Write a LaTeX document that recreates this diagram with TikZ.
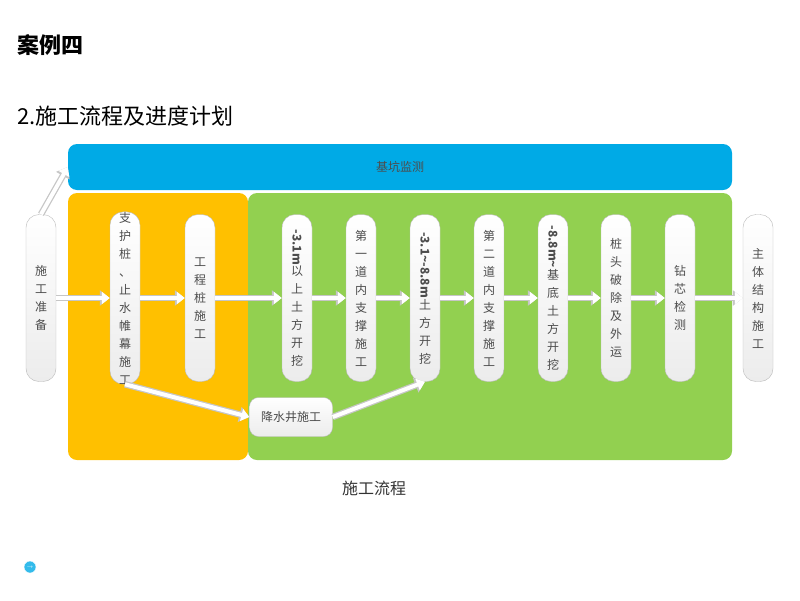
\documentclass[tikz,border=0pt]{standalone}
\usepackage{fontspec}
\setmainfont{Noto Sans CJK SC}
\usepackage{tikz}
\usetikzlibrary{positioning, arrows.meta}
\definecolor{monitorblue}{RGB}{0,170,230}
\definecolor{pileorange}{RGB}{255,192,0}
\definecolor{digreen}{RGB}{146,208,80}
\tikzset{
	panel/.style={
		rounded corners=9pt,
		draw=none,
	},
	stage/.style={
		draw=gray!55,
		top color=white,
		bottom color=gray!15,
		rounded corners=13pt,
		minimum width=30pt,
		minimum height=167pt,
		inner sep=0pt,
		align=center,
		font={\fontsize{12}{18}\selectfont},
		text=black!70,
	},
	flow/.style={
		preaction={draw=gray!45, line width=6.5pt, -{Triangle[length=10pt,width=15pt]}},
		draw=white,
		line width=4pt,
		-{Triangle[length=8pt,width=12pt]},
	},
}
\newcommand{\rot}[1]{\rotatebox{-90}{#1}}
\begin{document}
\begin{tikzpicture}[x=1pt, y=-1pt]
		\useasboundingbox[fill=white] (0,0) rectangle (800,600);
		
		\node(title)[anchor=west, font={\fontsize{22}{24}\selectfont\bfseries}] at (14,45){案例四};
		\node(subtitle)[anchor=west, font={\fontsize{22}{24}\selectfont}] at (14,116){2.施工流程及进度计划};
		
		% panels
		\fill[panel, pileorange] (68,193) rectangle (248,460);
		\fill[panel, digreen] (248,193) rectangle (732,460);
		\node(monitor)[panel, fill=monitorblue, minimum width=664pt, minimum height=46pt, font={\fontsize{12}{14}\selectfont}, text=black!70] at (400,167){基坑监测};
		
		% stages
		\node(prep)[stage] at (41,298){施\\工\\准\\备};
		\node(support)[stage] at (125,298){支\\护\\桩\\、\\止\\水\\帷\\幕\\施\\工};
		\node(pile)[stage] at (200,298){工\\程\\桩\\施\\工};
		\node(dig1)[stage] at (297,298){\rot{\textbf{-3.1m}}\\以\\上\\土\\方\\开\\挖};
		\node(brace1)[stage] at (361,298){第\\一\\道\\内\\支\\撑\\施\\工};
		\node(dig2)[stage] at (425,298){\rot{\textbf{-3.1\textasciitilde-8.8m}}\\土\\方\\开\\挖};
		\node(brace2)[stage] at (489,298){第\\二\\道\\内\\支\\撑\\施\\工};
		\node(dig3)[stage] at (553,298){\rot{\textbf{-8.8m\textasciitilde}}\\基\\底\\土\\方\\开\\挖};
		\node(cut)[stage] at (616,298){桩\\头\\破\\除\\及\\外\\运};
		\node(core)[stage] at (680,298){钻\\芯\\检\\测};
		\node(main)[stage] at (758,298){主\\体\\结\\构\\施\\工};
		\node(well)[stage, minimum width=83pt, minimum height=39pt, rounded corners=9pt] at (291,417){降水井施工};
		
		\draw[flow] (prep.east) -- (support.west);
		\draw[flow] (support.east) -- (pile.west);
		\draw[flow] (pile.east) -- (dig1.west);
		\draw[flow] (dig1.east) -- (brace1.west);
		\draw[flow] (brace1.east) -- (dig2.west);
		\draw[flow] (dig2.east) -- (brace2.west);
		\draw[flow] (brace2.east) -- (dig3.west);
		\draw[flow] (dig3.east) -- (cut.west);
		\draw[flow] (cut.east) -- (core.west);
		\draw[flow] (core.east) -- (main.west);
		\draw[flow] (prep.north) -- (monitor.west);
		\draw[flow] (support.south) -- (well.west);
		\draw[flow] (well.east) -- (dig2.south);
		
		\node(caption)[font={\fontsize{16}{18}\selectfont}, text=black!80] at (374,488){施工流程};
		\node(icon)[circle, fill=monitorblue!80, draw=white, minimum size=12pt, inner sep=0pt, text=white, font=\tiny\bfseries] at (30,567){$\rightarrow$};
		\end{tikzpicture}
\end{document}
